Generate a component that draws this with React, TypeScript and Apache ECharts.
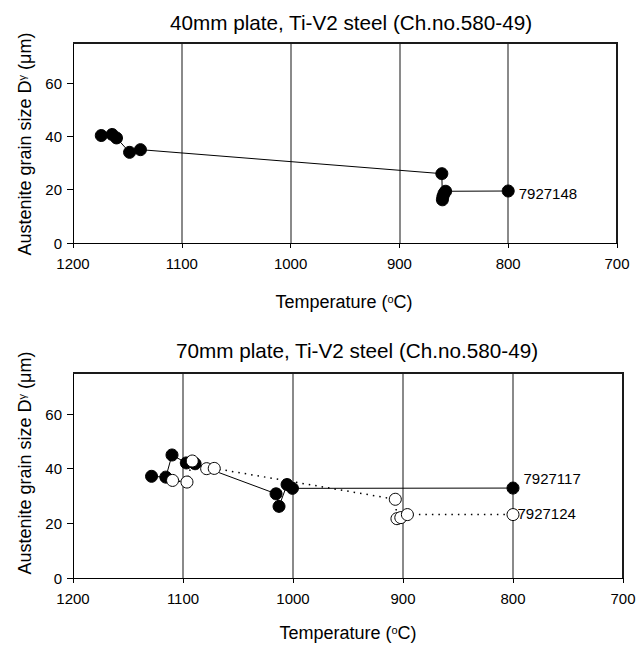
import React, { useEffect, useRef } from "react";
import * as echarts from "echarts";

const xTicks = [1200, 1100, 1000, 900, 800, 700];
const yTicks = [0, 20, 40, 60];
const xMin = 700;
const xMax = 1200;
const yMin = 0;
const yMax = 75;

const plate40Title = "40mm plate, Ti-V2 steel (Ch.no.580-49)";
const plate70Title = "70mm plate, Ti-V2 steel (Ch.no.580-49)";

const s7927148 = [
  [1174, 40.3], [1164, 40.7], [1160, 39.4], [1148, 34.0], [1138, 35.0],
  [861, 26.0], [860.5, 16.2], [860, 17.4], [859, 18.6], [857.5, 19.4], [800, 19.5],
];
const s7927117 = [
  [1128.6, 37.2], [1115.6, 36.9], [1110, 45.0], [1097, 42.1], [1089, 41.8],
  [1015.4, 30.8], [1012.7, 26.2], [1005.4, 34.2], [1000.5, 32.8], [800, 32.9],
];
const s7927124 = [
  [1109.5, 35.7], [1096.4, 35.1], [1091.6, 42.8], [1078.5, 40.0], [1071.6, 40.1],
  [907, 28.8], [905.5, 21.7], [902, 22.1], [896, 23.2], [800, 23.2],
];

const FONT = "'Liberation Sans', Arial, sans-serif";

export default function App() {
  const ref = useRef<HTMLDivElement>(null);
  useEffect(() => {
    if (!ref.current) return;
    const chart = echarts.init(ref.current, undefined, { renderer: "svg" });

    const makeX = (gridIndex: number) => ({
      type: "value",
      gridIndex,
      min: xMin,
      max: xMax,
      interval: 100,
      inverse: true,
      axisLine: { show: true, onZero: false, lineStyle: { color: "#000", width: 1 } },
      axisTick: { show: true, inside: false, length: 5, customValues: xTicks, lineStyle: { color: "#000" } },
      axisLabel: {
        color: "#000",
        fontSize: 15,
        fontFamily: FONT,
        margin: 13,
        customValues: xTicks,
        formatter: (v: number) => String(v),
      },
      splitLine: {
        show: true,
        showMinLine: false,
        showMaxLine: false,
        lineStyle: { color: "#8a8a8a", width: 2 },
      },
    });
    const makeY = (gridIndex: number) => ({
      type: "value",
      gridIndex,
      min: yMin,
      max: yMax,
      interval: 20,
      axisLine: { show: true, onZero: false, lineStyle: { color: "#000", width: 1 } },
      axisTick: { show: true, inside: false, length: 6, customValues: yTicks, lineStyle: { color: "#000" } },
      axisLabel: { color: "#000", fontSize: 15, fontFamily: FONT, margin: 11, customValues: yTicks },
      splitLine: { show: false },
    });

    const sup = { fontSize: 11, fontFamily: FONT, verticalAlign: "top", fill: "#000" };

    const textEl = (x: number, y: number, text: string, fontSize: number, rotation = 0) => ({
      type: "text",
      x,
      y,
      rotation,
      z: 10,
      style: {
        text,
        fontSize,
        fontFamily: FONT,
        fill: "#000",
        align: "center",
        verticalAlign: "middle",
        rich: { s: sup, n: { fontSize, fontFamily: FONT, fill: "#000" } },
      },
    });

    const yName = "{n|Austenite grain size D}{s|γ}{n| (μm)}";
    const xName = "{n|Temperature (}{s|o}{n|C)}";

    chart.setOption({
      animation: false,
      grid: [
        { left: 73, right: 27, top: 43, height: 200 },
        { left: 73, right: 21, top: 373, height: 205 },
      ],
      xAxis: [makeX(0), makeX(1)],
      yAxis: [makeY(0), makeY(1)],
      series: [
        {
          type: "line",
          xAxisIndex: 0,
          yAxisIndex: 0,
          data: s7927148.map((p, i) =>
            i === s7927148.length - 1
              ? { value: p, label: { show: true, formatter: "7927148", position: "right", distance: 4, offset: [0, 2], color: "#000", fontSize: 15, fontFamily: FONT } }
              : { value: p }
          ),
          symbol: "circle",
          symbolSize: 12,
          itemStyle: { color: "#000", borderColor: "#000", borderWidth: 1 },
          lineStyle: { color: "#000", width: 1 },
          z: 3,
        },
        {
          type: "line",
          xAxisIndex: 1,
          yAxisIndex: 1,
          data: s7927117.map((p, i) =>
            i === s7927117.length - 1
              ? { value: p, label: { show: true, formatter: "7927117", position: "right", distance: 4, offset: [0, -10], color: "#000", fontSize: 15, fontFamily: FONT } }
              : { value: p }
          ),
          symbol: "circle",
          symbolSize: 12,
          itemStyle: { color: "#000", borderColor: "#000", borderWidth: 1 },
          lineStyle: { color: "#000", width: 1 },
          z: 3,
        },
        {
          type: "line",
          xAxisIndex: 1,
          yAxisIndex: 1,
          data: s7927124.map((p, i) =>
            i === s7927124.length - 1
              ? { value: p, label: { show: true, formatter: "7927124", position: "right", distance: 0, offset: [-2, -1], color: "#000", fontSize: 15, fontFamily: FONT } }
              : { value: p }
          ),
          symbol: "circle",
          symbolSize: 12,
          itemStyle: { color: "#fff", borderColor: "#000", borderWidth: 1 },
          lineStyle: { color: "#000", width: 1.5, type: [1.5, 5] },
          z: 4,
        },
      ],
    });

    // top and right frame edges, placed through the axes' own scales
    const frame = (gi: number) => {
      const a = chart.convertToPixel({ xAxisIndex: gi, yAxisIndex: gi }, [xMax, yMax]) as number[];
      const b = chart.convertToPixel({ xAxisIndex: gi, yAxisIndex: gi }, [xMin, yMin]) as number[];
      return [
        { type: "line", z: 20, silent: true, shape: { x1: a[0], y1: a[1], x2: b[0] + 1, y2: a[1] }, style: { stroke: "#1a1a1a", lineWidth: 2 } },
        { type: "line", z: 20, silent: true, shape: { x1: b[0], y1: a[1] - 1, x2: b[0], y2: b[1] }, style: { stroke: "#1a1a1a", lineWidth: 2 } },
      ];
    };

    chart.setOption({
      graphic: [
        textEl(351, 22, plate40Title, 20.7),
        textEl(357, 350, plate70Title, 20.7),
        textEl(344, 302, xName, 18),
        textEl(348, 633, xName, 18),
        textEl(25, 144, yName, 18, Math.PI / 2),
        textEl(25, 463, yName, 18, Math.PI / 2),
        ...frame(0),
        ...frame(1),
      ],
    });
    return () => chart.dispose();
  }, []);
  return (
    <div
      ref={ref}
      style={{ position: "fixed", left: 0, top: 0, width: 644, height: 650, background: "#fff" }}
    />
  );
}
